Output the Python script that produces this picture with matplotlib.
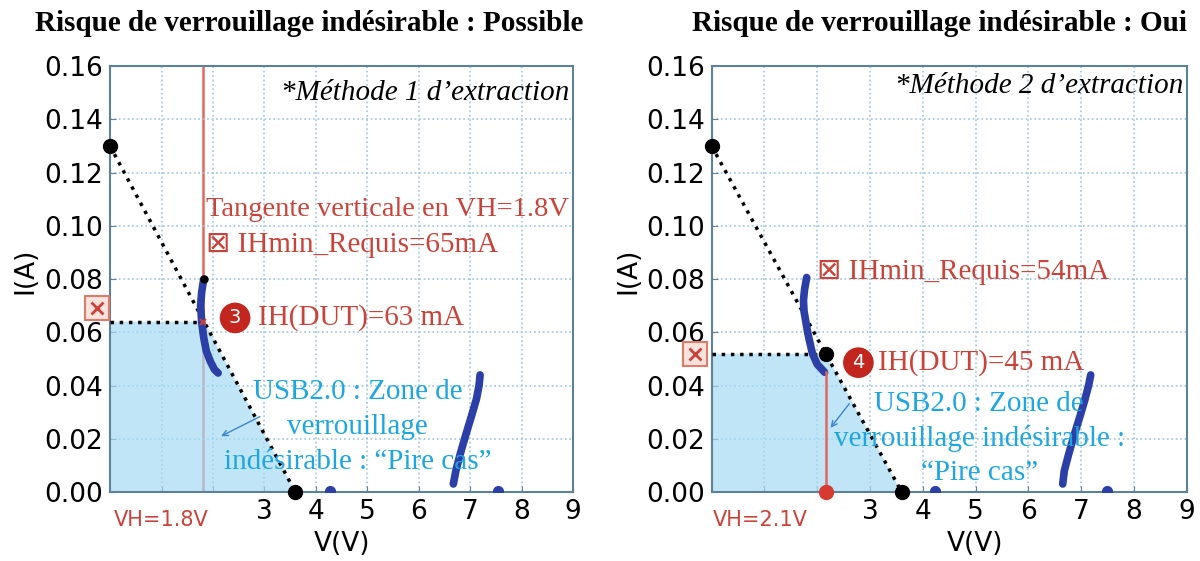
import matplotlib
matplotlib.use("Agg")
import matplotlib.pyplot as plt

# axes ranges
x_ticks = [0, 1, 2, 3, 4, 5, 6, 7, 8, 9]
x_ticklabels = ["", "", "", "3", "4", "5", "6", "7", "8", "9"]
y_ticks = [0.00, 0.02, 0.04, 0.06, 0.08, 0.10, 0.12, 0.14, 0.16]

# droite de charge USB2.0 (V, I)
load_v = [0.0, 3.6]
load_i = [0.13, 0.0]

# methode 1 : courbe TLP mesuree
m1_snap_v = [1.82, 1.78, 1.76, 1.78, 1.82, 1.87, 1.95, 2.03, 2.10]
m1_snap_i = [0.080, 0.075, 0.070, 0.064, 0.058, 0.053, 0.049, 0.046, 0.0447]
m1_hi_v = [6.67, 6.72, 6.80, 6.92, 7.03, 7.12, 7.17, 7.19]
m1_hi_i = [0.003, 0.008, 0.014, 0.022, 0.029, 0.035, 0.040, 0.044]
m1_dots_v = [4.27, 7.53]
m1_vh = 1.8
m1_ih = 0.064

# methode 2
m2_snap_v = [1.80, 1.76, 1.74, 1.75, 1.78, 1.81, 1.84, 1.91, 2.00, 2.14]
m2_snap_i = [0.0806, 0.076, 0.072, 0.068, 0.0645, 0.061, 0.058, 0.052, 0.048, 0.045]
m2_hi_v = [6.65, 6.68, 6.76, 6.86, 6.97, 7.06, 7.14, 7.18]
m2_hi_i = [0.003, 0.008, 0.014, 0.021, 0.028, 0.034, 0.040, 0.044]
m2_dots_v = [4.24, 7.48]
m2_vh = 2.16
m2_ih = 0.045
m2_ireq = 0.052

RED = "#c9433a"
RED_LINE = "#e0675f"
CYAN = "#1ea6e0"
BLUE = "#2b3fa6"
FILL = "#a6daf3"
GRID = "#9cc6df"
SPINE = "#5d8196"

SERIF = ["Liberation Serif", "DejaVu Sans"]
ANN = 21

fig = plt.figure(figsize=(12, 5.61), dpi=100)
ax1 = fig.add_axes([0.0917, 0.123, 0.386, 0.759])
ax2 = fig.add_axes([0.593, 0.123, 0.396, 0.759])


def load_line_x(i):
    # abscisse de la droite de charge pour un courant donne
    return load_v[1] * (1 - i / load_i[0])


def base(ax):
    ax.set_xlim(0, 9)
    ax.set_ylim(0, 0.16)
    ax.set_xticks(x_ticks)
    ax.set_xticklabels(x_ticklabels)
    ax.set_yticks(y_ticks)
    ax.set_yticklabels(["%.2f" % v for v in y_ticks])
    ax.tick_params(labelsize=19, direction="in", length=4, color=SPINE, pad=5)
    ax.grid(True, linestyle=":", color=GRID, linewidth=1.2)
    for s in ax.spines.values():
        s.set_color(SPINE)
        s.set_linewidth(1.5)
    ax.set_xlabel("V(V)", fontsize=19)
    ax.set_ylabel("I(A)", fontsize=19)


def fill_zone(ax, ireq):
    xr = load_line_x(ireq)
    ax.fill([0, 0, xr, load_v[1]], [0, ireq, ireq, 0], color=FILL, alpha=0.7,
            lw=0, zorder=2)
    ax.plot([0, xr], [ireq, ireq], ls=":", color="black", lw=2.5, zorder=4)


def load_line(ax):
    ax.plot(load_v, load_i, ls=":", color="black", lw=2.5, zorder=4)
    ax.plot(load_v, load_i, ls="none", marker="o", ms=10, color="black",
            zorder=6, clip_on=False)


def curves(ax, sv, si, hv, hi, dv):
    kw = dict(color=BLUE, lw=5.5, solid_capstyle="round", zorder=5)
    ax.plot(sv, si, **kw)
    ax.plot(hv, hi, **kw)
    ax.plot(dv, [0.0005] * len(dv), ls="none", marker="o", ms=7, color=BLUE,
            zorder=5)


def req_marker(ax, x, y):
    ax.plot([x], [y], marker="s", ms=17, mfc="#fbe3dd", mec="#e07a6a", mew=1.5,
            clip_on=False, zorder=7)
    ax.plot([x], [y], marker="x", ms=9, color=RED, mew=2, clip_on=False,
            zorder=8)


def step_badge(ax, x, y, n):
    ax.text(x, y, n, ha="center", va="center", fontsize=14, color="white",
            bbox=dict(boxstyle="circle,pad=0.3", fc="#c2261e", ec="none"),
            zorder=8)


# ---- methode 1
base(ax1)
ax1.axvline(m1_vh, color=RED_LINE, lw=1.8, zorder=1.5)
fill_zone(ax1, m1_ih)
load_line(ax1)
curves(ax1, m1_snap_v, m1_snap_i, m1_hi_v, m1_hi_i, m1_dots_v)
ax1.plot([m1_snap_v[0]], [m1_snap_i[0]], marker="o", ms=5, color="black", zorder=6)
ax1.plot([m1_vh], [m1_ih], marker="x", ms=5, color=RED, mew=1.5, zorder=6)
req_marker(ax1, -0.26, 0.069)

ax1.text(8.92, 0.150, "*Méthode 1 d\u2019extraction", ha="right", va="center",
         fontsize=ANN, style="italic", family=SERIF)
ax1.text(1.86, 0.106, "Tangente verticale en VH=1.8V", ha="left", va="center",
         fontsize=20.5, color=RED, family=SERIF)
ax1.text(1.86, 0.0928, "\u22a0 IHmin_Requis=65mA", ha="left", va="center",
         fontsize=ANN, color=RED, family=SERIF)
step_badge(ax1, 2.43, 0.0654, "3")
ax1.text(2.87, 0.0654, "IH(DUT)=63 mA", ha="left", va="center", fontsize=ANN,
         color=RED, family=SERIF)
ax1.text(4.81, 0.0245, "USB2.0 : Zone de\nverrouillage\nindésirable : \u201cPire cas\u201d",
         ha="center", va="center", fontsize=ANN, color=CYAN, family=SERIF,
         linespacing=1.45, zorder=8)
ax1.annotate("", xy=(2.11, 0.0205), xytext=(2.96, 0.0288),
             arrowprops=dict(arrowstyle="->", color="#3a86d0", lw=1), zorder=8)
ax1.text(1.0, -0.0105, "VH=1.8V", ha="center", va="center", fontsize=15,
         color=RED)
ax1.xaxis.set_label_coords(0.50, -0.092)
ax1.yaxis.set_label_coords(-0.155, 0.52)

# ---- methode 2
base(ax2)
fill_zone(ax2, m2_ireq)
ax2.plot([m2_vh, m2_vh], [0, m2_ih], color=RED_LINE, lw=1.8, zorder=5.5)
load_line(ax2)
curves(ax2, m2_snap_v, m2_snap_i, m2_hi_v, m2_hi_i, m2_dots_v)
ax2.plot([load_line_x(m2_ireq)], [m2_ireq], marker="o", ms=10, color="black", zorder=6)
ax2.plot([m2_vh], [0], marker="o", ms=10, color="#d63a30", zorder=6, clip_on=False)
req_marker(ax2, -0.31, 0.0517)

ax2.text(8.93, 0.1527, "*Méthode 2 d\u2019extraction", ha="right", va="center",
         fontsize=ANN, style="italic", family=SERIF)
ax2.text(1.99, 0.0828, "\u22a0 IHmin_Requis=54mA", ha="left", va="center",
         fontsize=ANN, color=RED, family=SERIF)
step_badge(ax2, 2.78, 0.0486, "4")
ax2.text(3.15, 0.0486, "IH(DUT)=45 mA", ha="left", va="center", fontsize=ANN,
         color=RED, family=SERIF)
ax2.text(5.07, 0.0200, "USB2.0 : Zone de\nverrouillage indésirable :\n\u201cPire cas\u201d",
         ha="center", va="center", fontsize=ANN, color=CYAN, family=SERIF,
         linespacing=1.4, zorder=8)
ax2.annotate("", xy=(2.22, 0.0233), xytext=(2.64, 0.034),
             arrowprops=dict(arrowstyle="->", color="#3a86d0", lw=1), zorder=8)
ax2.text(0.93, -0.0105, "VH=2.1V", ha="center", va="center", fontsize=15,
         color=RED)
ax2.xaxis.set_label_coords(0.554, -0.092)
ax2.yaxis.set_label_coords(-0.147, 0.52)

fig.text(0.258, 0.959, "Risque de verrouillage indésirable : Possible",
         ha="center", va="center", fontsize=21, weight="bold", family=SERIF)
fig.text(0.783, 0.959, "Risque de verrouillage indésirable : Oui",
         ha="center", va="center", fontsize=21, weight="bold", family=SERIF)

fig.savefig("out.png", dpi=100)
